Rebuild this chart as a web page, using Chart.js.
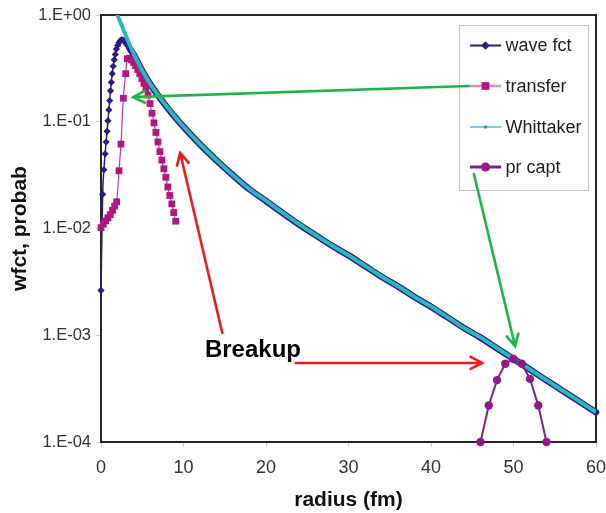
<!DOCTYPE html>
<html>
<head>
<meta charset="utf-8">
<title>wfct, probab</title>
<script src="https://cdn.jsdelivr.net/npm/chart.js@4.4.1/dist/chart.umd.min.js"></script>
<style>
  html, body { margin: 0; padding: 0; background: #fff; }
  #wrap { width: 606px; height: 513px; }
</style>
</head>
<body>
<div id="wrap"><canvas id="grafico" width="606" height="513"></canvas></div>
<script>
// radius (fm) and value of each series
const waveR = [0, 0.2, 0.35, 0.5, 0.62, 0.73, 0.84, 0.95, 1.05, 1.15, 1.25, 1.36, 1.48, 1.6, 1.73, 1.87,
  2.02, 2.18, 2.35, 2.52, 2.7, 2.88, 3.05, 3.25, 3.45, 3.7, 4, 5, 6, 7, 8, 9, 10, 12, 14, 16, 18, 20,
  22, 24, 26, 28, 30, 32, 34, 36, 38, 40, 42, 44, 46, 48, 50, 52, 54, 56, 58, 60];
const waveY = [0.00263, 0.0209, 0.0355, 0.0501, 0.0646, 0.0813, 0.102, 0.129, 0.158, 0.195, 0.234, 0.282,
  0.331, 0.380, 0.427, 0.479, 0.519, 0.550, 0.575, 0.586, 0.582, 0.562, 0.537, 0.513, 0.490, 0.457,
  0.420, 0.300, 0.223, 0.173, 0.137, 0.110, 0.0898, 0.0614, 0.0435, 0.0315, 0.0233, 0.0181, 0.0140,
  0.0109, 0.00867, 0.00689, 0.00560, 0.00445, 0.00353, 0.00287, 0.00228, 0.00185, 0.00147, 0.00117,
  0.000950, 0.000755, 0.000600, 0.000477, 0.000378, 0.000301, 0.000239, 0.000190];

const transferR = [0, 0.28, 0.56, 0.84, 1.12, 1.4, 1.65, 1.9, 2.18, 2.42, 2.71, 2.99, 3.2, 3.45, 3.7,
  3.95, 4.2, 4.45, 4.7, 4.95, 5.2, 5.45, 5.7, 5.94, 6.18, 6.42, 6.66, 6.9, 7.14, 7.38, 7.62, 7.86,
  8.1, 8.34, 8.58, 8.82, 9.06];
const transferY = [0.0102, 0.0110, 0.0118, 0.0126, 0.0135, 0.0148, 0.0162, 0.0178, 0.0347, 0.0617,
  0.166, 0.282, 0.389, 0.394, 0.380, 0.359, 0.335, 0.309, 0.282, 0.254, 0.229, 0.204, 0.178, 0.148,
  0.120, 0.0977, 0.0794, 0.0646, 0.0525, 0.0437, 0.0363, 0.0302, 0.0245, 0.0204, 0.0170, 0.0141, 0.0117];

const whitR = [1.9, 2, 2.5, 3, 3.5, 4, 5, 6, 7, 8, 9, 10, 12, 14, 16, 18, 20, 22, 24, 26, 28, 30, 32,
  34, 36, 38, 40, 42, 44, 46, 48, 50, 52, 54, 56, 58, 60];
const whitY = [1.05, 1.0, 0.80, 0.645, 0.52, 0.427, 0.302, 0.224, 0.174, 0.138, 0.111, 0.0902, 0.0617,
  0.0437, 0.0316, 0.0234, 0.0182, 0.0141, 0.0110, 0.00871, 0.00692, 0.00562, 0.00447, 0.00355,
  0.00288, 0.00229, 0.00186, 0.00148, 0.00117, 0.000955, 0.000759, 0.000603, 0.000479, 0.000380,
  0.000302, 0.000240, 0.000191];

const captR = [46, 47, 48, 49, 50, 51, 52, 53, 54];
const captY = [0.0001, 0.00022, 0.00038, 0.00054, 0.00060, 0.00054, 0.00039, 0.00022, 0.0001];

const yTickValues = [1, 0.1, 0.01, 0.001, 0.0001];
const yTickLabels = ['1.E+00', '1.E-01', '1.E-02', '1.E-03', '1.E-04'];
const seriesNames = ['wave fct', 'transfer', 'Whittaker', 'pr capt'];

// arrows and label, in (radius, value) coordinates
const arrows = [
  { from: [44.6, 0.216], to: [3.9, 0.17], color: '#1db54a' },
  { from: [45.2, 0.0324], to: [50.2, 0.00079], color: '#1db54a' },
  { from: [14.7, 0.00105], to: [9.6, 0.051], color: '#f01a1a' },
  { from: [23.6, 0.00055], to: [46.2, 0.00055], color: '#f01a1a' }
];
const noteText = 'Breakup';
const notePos = [12.6, 0.000624];

const FONT = 'Arial, "Liberation Sans", Helvetica, sans-serif';
const NAVY = '#2d1b86', MAGENTA = '#b3177f', CYAN = '#2bb8bc', PURPLE = '#8c1a8b';

function pares(xs, ys) {
  return xs.map((x, i) => ({ x: x, y: ys[i] }));
}

// legend look per series: line colour/width, marker
const legendLook = [
  { line: NAVY, width: 2, style: 'rectRot', r: 4.2, fill: NAVY },
  { line: '#e48cc6', width: 2.5, style: 'rect', r: 5.5, fill: MAGENTA },
  { line: '#3cc6cc', width: 1.5, style: 'circle', r: 1.8, fill: '#1f9ea3' },
  { line: PURPLE, width: 3, style: 'circle', r: 4.5, fill: PURPLE }
];

const plotBox = {
  id: 'plotBox',
  beforeDatasetsDraw(chart) {
    const { ctx, chartArea: a } = chart;
    ctx.save();
    ctx.strokeStyle = '#262626';
    ctx.lineWidth = 2;
    ctx.strokeRect(a.left, a.top, a.right - a.left, a.bottom - a.top);
    ctx.restore();
  }
};

function drawArrow(ctx, x1, y1, x2, y2, color) {
  const ang = Math.atan2(y2 - y1, x2 - x1);
  const len = 13, spread = 0.48;
  ctx.strokeStyle = color;
  ctx.lineWidth = 2.6;
  ctx.lineCap = 'round';
  ctx.beginPath();
  ctx.moveTo(x1, y1);
  ctx.lineTo(x2, y2);
  ctx.moveTo(x2 - len * Math.cos(ang - spread), y2 - len * Math.sin(ang - spread));
  ctx.lineTo(x2, y2);
  ctx.lineTo(x2 - len * Math.cos(ang + spread), y2 - len * Math.sin(ang + spread));
  ctx.stroke();
}

const extras = {
  id: 'extras',
  afterDatasetsDraw(chart) {
    const { ctx, chartArea: a, scales } = chart;
    const sx = scales.x, sy = scales.y;
    ctx.save();

    // legend box
    const lx = a.right - 136.5, ly = a.top + 10.5, w = 129, h = 165;
    ctx.fillStyle = '#fff';
    ctx.fillRect(lx, ly, w, h);
    ctx.strokeStyle = '#c8c8c8';
    ctx.lineWidth = 1;
    ctx.strokeRect(lx, ly, w, h);
    const rows = [20, 60.5, 101.5, 141.5];
    ctx.font = '18px ' + FONT;
    ctx.textBaseline = 'middle';
    seriesNames.forEach((name, i) => {
      const y = ly + rows[i];
      const L = legendLook[i];
      ctx.strokeStyle = L.line;
      ctx.lineWidth = L.width;
      ctx.beginPath();
      ctx.moveTo(lx + 10.5, y);
      ctx.lineTo(lx + 41.5, y);
      ctx.stroke();
      ctx.fillStyle = L.fill;
      Chart.helpers.drawPoint(ctx, { pointStyle: L.style, radius: L.r, rotation: 0, borderWidth: 0 }, lx + 26, y);
      ctx.fillStyle = '#1e1e1e';
      ctx.fillText(name, lx + 46, y + 1);
    });

    // arrows
    arrows.forEach(ar => {
      drawArrow(ctx,
        sx.getPixelForValue(ar.from[0]), sy.getPixelForValue(ar.from[1]),
        sx.getPixelForValue(ar.to[0]), sy.getPixelForValue(ar.to[1]), ar.color);
    });

    // label
    ctx.font = 'bold 24px ' + FONT;
    ctx.fillStyle = '#000';
    ctx.textBaseline = 'alphabetic';
    ctx.textAlign = 'left';
    ctx.fillText(noteText, sx.getPixelForValue(notePos[0]), sy.getPixelForValue(notePos[1]));
    ctx.restore();
  }
};

new Chart(document.getElementById('grafico'), {
  type: 'line',
  data: {
    datasets: [
      {
        label: seriesNames[0],
        data: pares(waveR, waveY),
        borderColor: NAVY,
        backgroundColor: NAVY,
        borderWidth: 1.5,
        segment: { borderWidth: ctx => (waveR[ctx.p0DataIndex] >= 3.45 ? 6.5 : 1.5) },
        borderCapStyle: 'round',
        borderJoinStyle: 'round',
        pointStyle: 'rectRot',
        pointRadius: ctx => (waveR[ctx.dataIndex] <= 3.5 ? 3.6 : 0),
        pointBorderWidth: 0,
        cubicInterpolationMode: 'monotone',
        clip: false,
        order: 4
      },
      {
        label: seriesNames[1],
        data: pares(transferR, transferY),
        borderColor: '#c2399a',
        backgroundColor: MAGENTA,
        borderWidth: 1.2,
        pointStyle: 'rect',
        pointRadius: 4.8,
        pointBorderWidth: 0,
        cubicInterpolationMode: 'monotone',
        clip: false,
        order: 3
      },
      {
        label: seriesNames[2],
        data: pares(whitR, whitY),
        borderColor: CYAN,
        borderWidth: 4,
        pointRadius: 0,
        cubicInterpolationMode: 'monotone',
        order: 2
      },
      {
        label: seriesNames[3],
        data: pares(captR, captY),
        borderColor: PURPLE,
        backgroundColor: PURPLE,
        borderWidth: 2,
        pointStyle: 'circle',
        pointRadius: 4.2,
        pointBorderWidth: 0,
        tension: 0,
        clip: false,
        order: 1
      }
    ]
  },
  options: {
    responsive: false,
    animation: false,
    layout: { padding: { top: 15, right: 0, left: 0, bottom: 0 } },
    plugins: {
      legend: { display: false },
      tooltip: { enabled: false }
    },
    scales: {
      x: {
        type: 'linear',
        min: 0,
        max: 60,
        afterFit: s => { s.height = 71; s.paddingRight = 10; s.paddingLeft = 0; },
        grid: { drawOnChartArea: false, drawTicks: true, tickLength: 5, color: '#cfcfcf' },
        border: { display: false },
        ticks: { stepSize: 10, padding: 10, color: '#333', font: { family: FONT, size: 18 } },
        title: {
          display: true,
          text: 'radius (fm)',
          color: '#111',
          padding: { top: 0, bottom: 0 },
          font: { family: FONT, size: 21, weight: 'bold' }
        }
      },
      y: {
        type: 'logarithmic',
        min: 0.0001,
        max: 1,
        afterFit: s => { s.width = 101; },
        afterBuildTicks: s => { s.ticks = yTickValues.map(v => ({ value: v })); },
        grid: { drawOnChartArea: false, drawTicks: true, tickLength: 5, color: '#cfcfcf' },
        border: { display: false },
        ticks: {
          autoSkip: false,
          padding: 5,
          color: '#333',
          font: { family: FONT, size: 16.5 },
          callback: v => yTickLabels[yTickValues.indexOf(v)]
        },
        title: {
          display: true,
          text: 'wfct, probab',
          color: '#111',
          padding: { top: 8, bottom: 0 },
          font: { family: FONT, size: 21, weight: 'bold' }
        }
      }
    }
  },
  plugins: [plotBox, extras]
});
</script>
</body>
</html>
